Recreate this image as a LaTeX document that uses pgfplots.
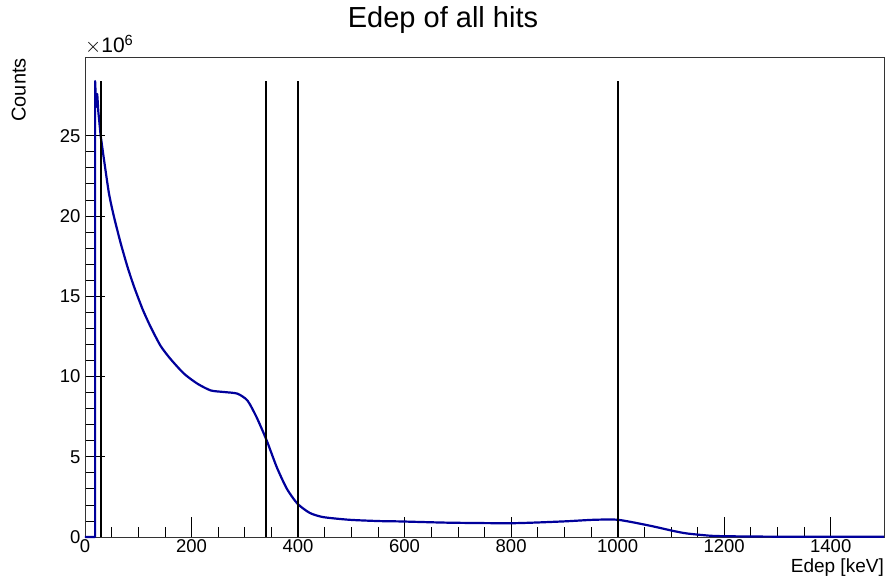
\documentclass[border=0pt]{standalone}
\usepackage{pgfplots}
\pgfplotsset{compat=1.18}
\usepackage{fontspec}
\setmainfont{Liberation Sans}
\definecolor{rootblue}{RGB}{0,0,155}

\begin{document}
\begin{tikzpicture}
\useasboundingbox (-85pt,-48pt) rectangle (801pt,537pt);
\begin{axis}[
    scale only axis,
    width=799pt, height=480pt,
    xmin=0, xmax=1500,
    ymin=0, ymax=29.9,
    xtick={0,200,...,1400},
    ytick={0,5,...,25},
    minor x tick num=3,
    minor y tick num=4,
    tick pos=left,
    tick align=inside,
    major tick length=20pt,
    minor tick length=10pt,
    axis line style={black!80, line width=0.8pt},
    every tick/.style={black, line width=0.7pt},
    scaled y ticks=false,
    /pgf/number format/assume math mode=true,
    /pgf/number format/1000 sep={},
    tick label style={font=\fontsize{18.5}{20}\selectfont},
    yticklabel style={xshift=-1pt},
    xticklabel style={yshift=1pt},
    clip=false,
]
% rising edge of the histogram
\addplot[rootblue, line width=2.2pt, line join=round] coordinates {
(0,0) (19,0) (19,28.4) (21,26.8) (23,27.6) (25,26.5) (29.4,25.0)
};
\addplot[rootblue, line width=2.2pt, smooth, tension=0.4] coordinates {
(29.4,25.0) (35.7,23.5)
(45,21.4) (54,20.0) (67,18.3) (80,16.8) (92,15.6) (108,14.2) (123,13.1)
(142,11.9) (161,11.07) (186,10.17) (211,9.55) (236,9.13) (261,9.03) (286,8.93)
(305,8.5) (322,7.47) (341,6.02) (360,4.35) (379,3.0) (399,2.07) (422,1.5)
(447,1.24) (497,1.07) (554,0.99) (591,0.97) (685,0.89) (804,0.86) (898,0.97)
(954,1.07) (1001,1.07) (1061,0.7) (1104,0.38) (1130,0.22) (1173,0.08)
(1200,0.05) (1250,0.03) (1300,0.02) (1400,0.01) (1500,0.01)
};
\addplot[black, line width=2pt] coordinates {(30,0) (30,28.4)};
\addplot[black, line width=2pt] coordinates {(340,0) (340,28.4)};
\addplot[black, line width=2pt] coordinates {(400,0) (400,28.4)};
\addplot[black, line width=2pt] coordinates {(1000,0) (1000,28.4)};
\end{axis}
\node[anchor=center, font=\fontsize{29}{32}\selectfont] at (358pt,517pt) {Edep of all hits};
\node[anchor=base west, inner sep=0pt, font=\fontsize{21}{23}\selectfont] at (0pt,484pt) {$\times$10\textsuperscript{6}};
\node[rotate=90, anchor=south east, inner sep=0pt, font=\fontsize{20}{22}\selectfont] at (-59pt,479pt) {Counts};
\node[anchor=east, inner sep=0pt, font=\fontsize{19}{21}\selectfont] at (799pt,-31pt) {Edep [keV]};
\end{tikzpicture}
\end{document}
